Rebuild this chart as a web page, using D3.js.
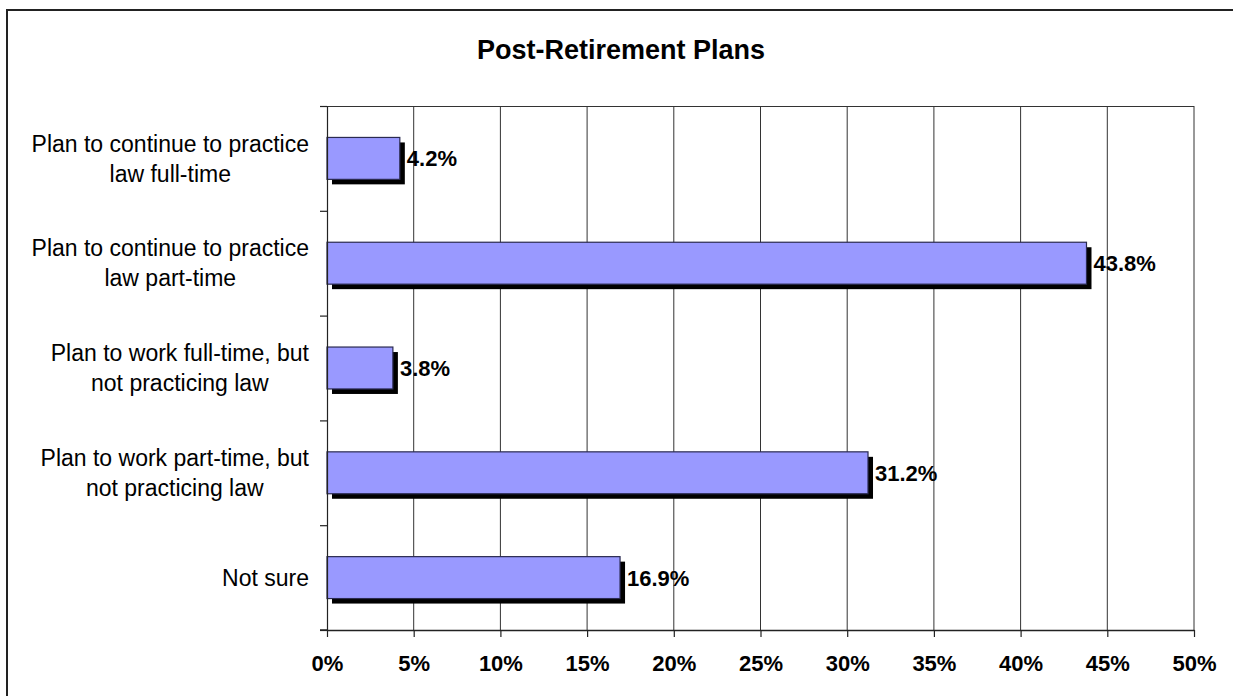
<!DOCTYPE html>
<html>
<head>
<meta charset="utf-8">
<script src="https://cdn.jsdelivr.net/npm/d3@7"></script>
<style>
  html, body { margin: 0; padding: 0; background: #fff; }
  svg { display: block; font-family: "Liberation Sans", Arial, sans-serif; }
</style>
</head>
<body>
<svg id="chart" width="1233" height="696"></svg>
<script>
// Survey answers, top to bottom, with the share of respondents for each
const categories = [
  ["Plan to continue to practice", "law full-time"],
  ["Plan to continue to practice", "law part-time"],
  ["Plan to work full-time, but", "not practicing law"],
  ["Plan to work part-time, but", "not practicing law"],
  ["Not sure"]
];
const values = [4.2, 43.8, 3.8, 31.2, 16.9];
const xTicks = [0, 5, 10, 15, 20, 25, 30, 35, 40, 45, 50];
const title = "Post-Retirement Plans";

const svg = d3.select("#chart");
const W = 1233, H = 696;
const plot = { left: 327, right: 1194, top: 106, bottom: 630 };

// Frame around the chart area (runs off the right and bottom edges)
svg.append("rect")
  .attr("x", 7).attr("y", 10)
  .attr("width", W + 20).attr("height", H + 20)
  .attr("fill", "#fff")
  .attr("stroke", "#222").attr("stroke-width", 2);

const x = d3.scaleLinear().domain([0, 50]).range([plot.left, plot.right]);
const y = d3.scaleBand().domain(d3.range(categories.length))
  .range([plot.top, plot.bottom]).padding(0);

// Title
svg.append("text")
  .attr("x", 621).attr("y", 59)
  .attr("text-anchor", "middle")
  .attr("font-size", 27).attr("font-weight", "bold")
  .attr("fill", "#000")
  .text(title);

// Vertical gridlines
svg.append("g").selectAll("line")
  .data(xTicks.slice(1))
  .join("line")
  .attr("x1", d => x(d)).attr("x2", d => x(d))
  .attr("y1", plot.top).attr("y2", plot.bottom)
  .attr("stroke", "#333").attr("stroke-width", 1);

// Top edge of the plot area
svg.append("line")
  .attr("x1", plot.left).attr("x2", plot.right)
  .attr("y1", plot.top + 0.5).attr("y2", plot.top + 0.5)
  .attr("stroke", "#333").attr("stroke-width", 1);

// Bars with a drop shadow
const barH = y.bandwidth() * 0.4;
const shadow = 5;
const bars = svg.append("g");
bars.selectAll("rect.shadow")
  .data(values)
  .join("rect")
  .attr("class", "shadow")
  .attr("x", x(0) + shadow)
  .attr("y", (d, i) => y(i) + (y.bandwidth() - barH) / 2 + shadow)
  .attr("width", d => x(d) - x(0))
  .attr("height", barH)
  .attr("fill", "#000");
bars.selectAll("rect.bar")
  .data(values)
  .join("rect")
  .attr("class", "bar")
  .attr("x", x(0))
  .attr("y", (d, i) => y(i) + (y.bandwidth() - barH) / 2)
  .attr("width", d => x(d) - x(0))
  .attr("height", barH)
  .attr("fill", "#9999FF")
  .attr("stroke", "#2a2a50").attr("stroke-width", 1.2);

// Value labels
svg.append("g").selectAll("text")
  .data(values)
  .join("text")
  .attr("x", d => x(d) + 7)
  .attr("y", (d, i) => y(i) + y.bandwidth() / 2)
  .attr("dy", "0.36em")
  .attr("font-size", 22).attr("font-weight", "bold")
  .attr("fill", "#000")
  .text(d => d.toFixed(1) + "%");

// Y axis: line plus ticks at band boundaries, drawn with d3.axisLeft
const yEdges = d3.scaleLinear().domain([0, categories.length]).range([plot.top, plot.bottom]);
const yAxis = svg.append("g")
  .attr("transform", `translate(${plot.left},0)`)
  .call(d3.axisLeft(yEdges).ticks(categories.length).tickSize(7).tickSizeOuter(0).tickFormat(""));
yAxis.selectAll("path, line").attr("stroke", "#222").attr("stroke-width", 1.2);

// X axis
const xAxis = svg.append("g")
  .attr("transform", `translate(0,${plot.bottom})`)
  .call(d3.axisBottom(x).tickValues(xTicks).tickSize(7).tickSizeOuter(0).tickFormat(d => d + "%"));
xAxis.select("path.domain").attr("stroke", "#222").attr("stroke-width", 1.5);
xAxis.selectAll(".tick line").attr("stroke", "#222").attr("stroke-width", 1.2);
xAxis.selectAll(".tick text")
  .attr("y", 25).attr("dy", "0.71em")
  .attr("font-size", 22).attr("font-weight", "bold")
  .attr("font-family", "\"Liberation Sans\", Arial, sans-serif")
  .attr("fill", "#000");
// extend the axis line left over the y-axis tick
svg.append("line")
  .attr("x1", plot.left - 7).attr("x2", plot.left)
  .attr("y1", plot.bottom).attr("y2", plot.bottom)
  .attr("stroke", "#222").attr("stroke-width", 1.5);

// Category labels: lines centred with each other, block right-aligned to the axis
const labelRight = 309, lineGap = 30;
const catG = svg.append("g");
categories.forEach((lines, i) => {
  const cy = y(i) + y.bandwidth() / 2;
  const t = catG.append("text")
    .attr("font-size", 23).attr("fill", "#000")
    .attr("text-anchor", "middle");
  lines.forEach((ln, j) => {
    t.append("tspan")
      .attr("y", cy + (j - (lines.length - 1) / 2) * lineGap)
      .attr("dy", "0.36em")
      .text(ln);
  });
  const w = d3.max(t.selectAll("tspan").nodes(), n => n.getComputedTextLength());
  t.selectAll("tspan").attr("x", labelRight - w / 2);
});
</script>
</body>
</html>
